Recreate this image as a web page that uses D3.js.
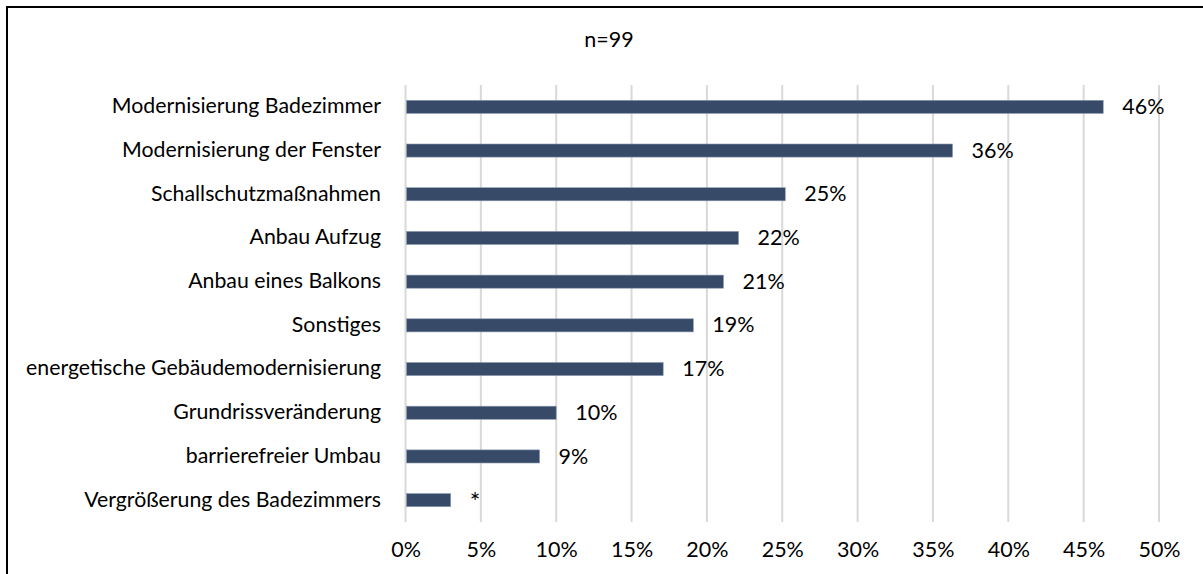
<!DOCTYPE html>
<html>
<head>
<meta charset="utf-8">
<script src="https://cdn.jsdelivr.net/npm/d3@7"></script>
<style>
  body { margin: 0; background: #fff; overflow: hidden; }
  svg { display: block; font-family: "Lato", "Open Sans", sans-serif; }
</style>
</head>
<body>
<div id="chart"></div>
<script>
// data
var categories = [
  "Modernisierung Badezimmer",
  "Modernisierung der Fenster",
  "Schallschutzmaßnahmen",
  "Anbau Aufzug",
  "Anbau eines Balkons",
  "Sonstiges",
  "energetische Gebäudemodernisierung",
  "Grundrissveränderung",
  "barrierefreier Umbau",
  "Vergrößerung des Badezimmers"
];
var values = [0.463, 0.363, 0.252, 0.221, 0.211, 0.191, 0.171, 0.100, 0.089, 0.030];
var valueLabels = ["46%", "36%", "25%", "22%", "21%", "19%", "17%", "10%", "9%", "*"];
var xTicks = [0, 0.05, 0.10, 0.15, 0.20, 0.25, 0.30, 0.35, 0.40, 0.45, 0.50];
var subtitle = "n=99";

var width = 1203, height = 574;
var plot = {left: 405.5, right: 1159, top: 85, bottom: 522};
var fontSize = 21.5;

var svg = d3.select("#chart").append("svg")
  .attr("width", width)
  .attr("height", height);

// frame: only top and left edges are inside the picture
svg.append("path")
  .attr("d", "M7," + height + "V7H" + width)
  .attr("fill", "none")
  .attr("stroke", "#000")
  .attr("stroke-width", 2);

var x = d3.scaleLinear().domain([0, 0.5]).range([plot.left, plot.right]);
var y = d3.scaleBand().domain(categories).range([plot.top, plot.bottom])
  .paddingInner(0.7).paddingOuter(0.35);

// gridlines
svg.append("g").selectAll("line")
  .data(xTicks)
  .enter().append("line")
  .attr("x1", function(d) { return x(d); })
  .attr("x2", function(d) { return x(d); })
  .attr("y1", plot.top)
  .attr("y2", plot.bottom)
  .attr("stroke", "#d9d9d9")
  .attr("stroke-width", 2);

// x axis labels
var xAxis = svg.append("g")
  .attr("transform", "translate(0," + plot.bottom + ")")
  .call(d3.axisBottom(x).tickValues(xTicks).tickFormat(d3.format(".0%")).tickSize(0).tickPadding(20));
xAxis.select(".domain").remove();
xAxis.selectAll("text")
  .attr("font-family", "Lato, sans-serif")
  .attr("font-size", fontSize + "px")
  .attr("fill", "#000");

// y axis labels
var yAxis = svg.append("g")
  .attr("transform", "translate(" + plot.left + ",0)")
  .call(d3.axisLeft(y).tickSize(0).tickPadding(24.5));
yAxis.select(".domain").remove();
yAxis.selectAll("text")
  .attr("font-family", "Lato, sans-serif")
  .attr("font-size", "21.3px")
  .attr("dy", "0.3em")
  .attr("fill", "#000");

// bars
svg.append("g").selectAll("rect")
  .data(values)
  .enter().append("rect")
  .attr("x", x(0) + 1)
  .attr("y", function(d, i) { return y(categories[i]); })
  .attr("width", function(d) { return x(d) - x(0) - 1; })
  .attr("height", y.bandwidth())
  .attr("fill", "#374b68")
  .attr("stroke", "#8d9ab0")
  .attr("stroke-width", 0.6);

// value labels
svg.append("g").selectAll("text")
  .data(values)
  .enter().append("text")
  .attr("x", function(d) { return x(d) + 19; })
  .attr("y", function(d, i) { return y(categories[i]) + y.bandwidth() / 2; })
  .attr("dy", function(d, i) { return valueLabels[i] === "*" ? "0.42em" : "0.33em"; })
  .attr("font-size", function(d, i) { return valueLabels[i] === "*" ? "25px" : fontSize + "px"; })
  .attr("fill", "#000")
  .text(function(d, i) { return valueLabels[i]; });

// n
svg.append("text")
  .attr("x", 609)
  .attr("y", 47)
  .attr("text-anchor", "middle")
  .attr("font-size", fontSize + "px")
  .attr("fill", "#000")
  .text(subtitle);
</script>
</body>
</html>
